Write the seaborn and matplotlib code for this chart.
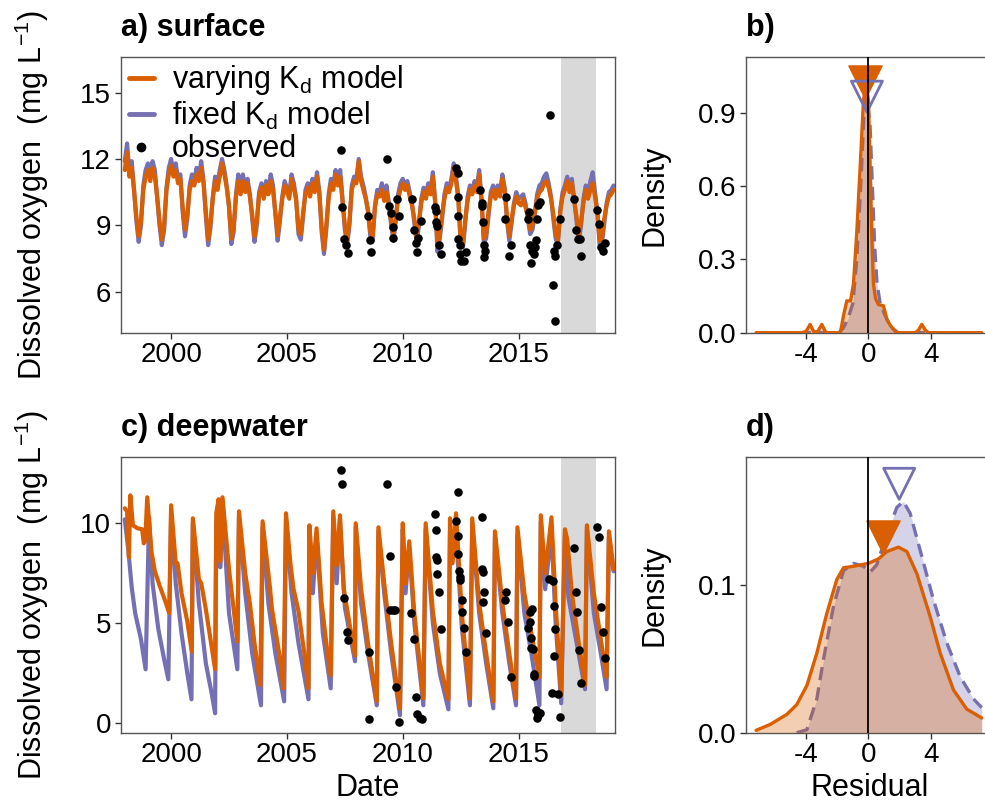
import numpy as np
import matplotlib
matplotlib.use("Agg")
import matplotlib.pyplot as plt
from matplotlib.lines import Line2D
import seaborn as sns

# ---------------- data ----------------
ORANGE = "#D95F02"
PURPLE = "#7570B3"

# surface model output, sampled every 0.1 year from 1998.0 to 2019.1
surf_time = np.round(np.arange(1998.0, 2019.15, 0.1), 2)
surf_vary = [
    11.5, 12.3, 11.2, 11.6, 10.6, 9.4, 8.5, 9.2, 10.6, 11.2,   # 1998
    11.5, 11.0, 11.6, 11.2, 10.3, 9.2, 8.35, 9.0, 10.6, 11.3,  # 1999
    11.7, 11.2, 11.5, 10.9, 11.1, 9.8, 8.8, 9.5, 10.6, 11.0,   # 2000
    10.8, 11.3, 11.0, 11.6, 10.9, 9.6, 8.35, 9.1, 10.2, 11.0,  # 2001
    10.6, 11.2, 11.8, 11.3, 10.7, 9.9, 8.4, 8.9, 10.3, 11.0,   # 2002
    10.4, 11.0, 10.5, 10.9, 10.3, 9.5, 8.5, 9.2, 10.4, 10.7,   # 2003
    10.2, 10.8, 10.4, 11.0, 10.6, 9.6, 8.55, 9.4, 10.2, 10.8,  # 2004
    10.5, 10.2, 11.1, 10.7, 10.1, 8.8, 8.6, 9.6, 10.4, 10.7,   # 2005
    10.3, 10.9, 10.5, 11.2, 10.4, 8.9, 7.9, 9.0, 10.2, 10.9,   # 2006
    10.6, 11.3, 10.8, 11.2, 10.1, 9.0, 8.3, 9.2, 10.6, 11.0,   # 2007
    10.9, 11.9, 11.0, 10.6, 10.2, 9.7, 8.7, 8.5, 9.8, 10.4,    # 2008
    10.3, 10.6, 10.1, 10.5, 9.9, 9.2, 8.5, 9.4, 10.2, 10.6,    # 2009
    10.9, 10.6, 10.8, 10.3, 9.9, 9.3, 8.4, 9.2, 10.0, 10.5,    # 2010
    10.2, 10.7, 10.4, 11.2, 10.0, 8.1, 8.6, 9.5, 10.2, 10.7,   # 2011
    10.5, 10.9, 11.6, 11.0, 10.2, 8.3, 8.2, 9.3, 10.1, 10.6,   # 2012
    10.4, 10.8, 10.5, 11.3, 10.1, 8.4, 8.6, 9.6, 10.3, 10.6,   # 2013
    10.2, 10.6, 10.3, 11.1, 10.6, 9.4, 8.5, 9.3, 9.9, 10.3,    # 2014
    10.0, 9.9, 10.2, 9.8, 9.4, 8.8, 9.0, 9.6, 10.2, 10.5,      # 2015
    10.6, 10.9, 11.0, 10.7, 10.2, 9.5, 8.6, 8.3, 9.6, 10.3,    # 2016
    10.6, 11.0, 10.5, 10.9, 10.1, 9.4, 8.5, 9.2, 10.0, 10.6,   # 2017
    10.2, 10.6, 10.9, 10.3, 9.6, 8.3, 8.4, 9.3, 9.9, 10.3,     # 2018
    10.4, 10.6,                                                # 2019
]
surf_fixed = [
    11.9, 12.7, 11.4, 11.9, 10.6, 9.2, 8.25, 9.0, 10.8, 11.5,  # 1998
    11.8, 11.3, 11.9, 11.5, 10.2, 9.0, 8.1, 8.8, 10.7, 11.6,   # 1999
    12.0, 11.4, 11.8, 11.1, 11.3, 9.6, 8.5, 9.3, 10.8, 11.3,   # 2000
    11.0, 11.6, 11.2, 11.9, 11.0, 9.4, 8.1, 8.9, 10.3, 11.2,   # 2001
    10.8, 11.5, 12.0, 11.5, 10.8, 9.8, 8.15, 8.7, 10.4, 11.3,  # 2002
    10.6, 11.3, 10.7, 11.1, 10.4, 9.3, 8.25, 9.0, 10.5, 10.9,  # 2003
    10.4, 11.0, 10.6, 11.3, 10.8, 9.5, 8.3, 9.2, 10.3, 11.0,   # 2004
    10.7, 10.4, 11.3, 10.9, 10.2, 8.6, 8.35, 9.4, 10.6, 10.9,  # 2005
    10.5, 11.1, 10.7, 11.4, 10.5, 8.7, 7.7, 8.8, 10.4, 11.1,   # 2006
    10.8, 11.5, 11.0, 11.5, 10.2, 8.8, 8.1, 9.0, 10.8, 11.2,   # 2007
    11.1, 12.0, 11.2, 10.8, 10.3, 9.6, 8.5, 8.3, 9.9, 10.6,    # 2008
    10.5, 10.9, 10.3, 10.8, 10.0, 9.0, 8.3, 9.2, 10.4, 10.9,   # 2009
    11.1, 10.8, 11.0, 10.5, 10.0, 9.1, 8.2, 9.0, 10.2, 10.7,   # 2010
    10.4, 10.9, 10.6, 11.4, 10.1, 7.8, 8.4, 9.3, 10.4, 10.9,   # 2011
    10.7, 11.1, 11.8, 11.2, 10.3, 8.1, 8.0, 9.1, 10.3, 10.8,   # 2012
    10.6, 11.0, 10.7, 11.5, 10.2, 8.2, 8.4, 9.4, 10.5, 10.8,   # 2013
    10.4, 10.8, 10.5, 11.3, 10.7, 9.2, 8.3, 9.1, 10.0, 10.5,   # 2014
    10.2, 10.3, 10.4, 10.0, 9.3, 8.6, 8.8, 9.5, 10.4, 10.8,    # 2015
    10.9, 11.2, 11.35, 10.9, 10.3, 9.3, 8.4, 8.1, 9.7, 10.5,   # 2016
    10.8, 11.2, 10.7, 11.1, 10.2, 9.2, 8.3, 9.0, 10.2, 10.8,   # 2017
    10.4, 11.0, 11.4, 10.5, 9.6, 8.1, 8.2, 9.1, 10.0, 10.5,    # 2018
    10.6, 10.8,                                                # 2019
]

# deepwater model output (irregular knots, decimal year)
deep_time_vary = [
    1998.00, 1998.10, 1998.18, 1998.24, 1998.35, 1998.55, 1998.75, 1998.82, 1998.88, 1998.97,
    1999.15, 1999.30, 1999.50, 1999.75, 1999.92,
    2000.00, 2000.20, 2000.28, 2000.45, 2000.70, 2000.89, 2000.94,
    2001.20, 2001.30, 2001.50, 2001.90, 2001.95,
    2002.05, 2002.12, 2002.22, 2002.50, 2002.86, 2002.93,
    2003.20, 2003.40, 2003.60, 2003.85, 2003.95,
    2004.15, 2004.27, 2004.35, 2004.70, 2004.85, 2004.96,
    2005.15, 2005.28, 2005.50, 2005.75, 2005.93, 2005.97,
    2006.12, 2006.28, 2006.50, 2006.70, 2006.89,
    2007.00, 2007.15, 2007.29, 2007.45, 2007.70, 2007.94, 2007.97,
    2008.20, 2008.50, 2008.88, 2008.95,
    2009.20, 2009.50, 2009.88,
    2010.00, 2010.12, 2010.28, 2010.50, 2010.89, 2010.99,
    2011.30, 2011.60, 2011.97,
    2012.04, 2012.15, 2012.30, 2012.55, 2012.90,
    2013.00, 2013.30, 2013.60, 2013.91, 2013.98,
    2014.30, 2014.60, 2014.89, 2014.95,
    2015.25, 2015.55, 2015.90, 2015.96,
    2016.15, 2016.42, 2016.60, 2016.84,
    2017.00, 2017.10, 2017.30, 2017.60, 2017.87, 2017.95,
    2018.25, 2018.55, 2018.80, 2018.90,
    2019.10,
]
deep_vary = [
    10.75, 10.6, 8.3, 11.4, 9.9, 9.75, 9.7, 9.0, 9.1, 11.3,
    8.6, 7.6, 6.9, 6.1, 5.5,
    10.9, 8.0, 8.0, 6.5, 5.1, 3.6, 10.25,
    7.2, 7.0, 5.7, 2.7, 10.5,
    11.2, 8.1, 11.3, 7.7, 4.1, 10.6,
    7.5, 6.0, 4.0, 1.9, 10.1,
    8.0, 6.75, 5.75, 3.25, 1.75, 10.5,
    8.0, 6.75, 5.6, 3.5, 1.75, 9.9,
    7.5, 9.75, 6.0, 4.0, 2.4,
    10.6, 7.9, 10.4, 6.75, 5.0, 3.4, 10.0,
    6.75, 4.0, 1.1, 9.8,
    7.0, 4.0, 0.75,
    10.0, 7.0, 9.1, 5.5, 1.25, 10.0,
    5.6, 3.0, 1.2,
    10.25, 8.0, 10.5, 5.5, 1.25,
    10.25, 6.0, 3.5, 1.1, 9.6,
    6.0, 3.5, 1.25, 9.8,
    6.5, 4.5, 2.3, 10.4,
    7.5, 10.3, 6.0, 1.4,
    9.7, 9.2, 6.5, 4.0, 1.9, 9.9,
    6.5, 4.2, 2.3, 9.6,
    7.7,
]
deep_time_fixed = [
    1998.00, 1998.15, 1998.30, 1998.45, 1998.70, 1998.90,
    1999.05, 1999.20, 1999.45, 1999.70, 1999.88,
    2000.00, 2000.20, 2000.45, 2000.70, 2000.88, 2000.94,
    2001.20, 2001.50, 2001.75, 2001.90, 2001.95,
    2002.05, 2002.12, 2002.22, 2002.50, 2002.86, 2002.93,
    2003.20, 2003.50, 2003.88, 2003.95,
    2004.20, 2004.50, 2004.88, 2004.96,
    2005.20, 2005.50, 2005.93, 2005.97,
    2006.12, 2006.28, 2006.55, 2006.89,
    2007.00, 2007.15, 2007.29, 2007.50, 2007.94, 2007.97,
    2008.20, 2008.50, 2008.88, 2008.95,
    2009.20, 2009.50, 2009.88,
    2010.00, 2010.12, 2010.28, 2010.50, 2010.89, 2010.99,
    2011.30, 2011.60, 2011.97,
    2012.04, 2012.15, 2012.30, 2012.55, 2012.90,
    2013.00, 2013.30, 2013.60, 2013.91, 2013.98,
    2014.30, 2014.60, 2014.89, 2014.95,
    2015.25, 2015.55, 2015.90, 2015.96,
    2016.15, 2016.42, 2016.60, 2016.84,
    2017.00, 2017.15, 2017.40, 2017.87, 2017.95,
    2018.25, 2018.55, 2018.80, 2018.90,
    2019.10,
]
deep_fixed = [
    10.2, 8.7, 6.8, 5.5, 4.2, 2.7,
    10.3, 7.0, 4.7, 3.2, 2.2,
    10.4, 7.0, 4.5, 2.5, 1.2, 10.0,
    6.0, 3.0, 1.5, 0.5, 10.0,
    10.6, 7.8, 10.8, 5.5, 2.7, 10.3,
    6.5, 3.5, 0.9, 9.8,
    6.0, 3.5, 1.1, 10.2,
    6.5, 4.0, 1.2, 9.6,
    6.5, 9.4, 4.5, 1.75,
    10.3, 7.0, 10.1, 5.8, 3.1, 9.8,
    6.0, 3.5, 0.9, 9.6,
    6.5, 3.5, 0.4,
    9.7, 6.5, 8.8, 5.0, 0.9, 9.7,
    5.0, 2.5, 0.7,
    9.6, 8.2, 9.6, 4.8, 0.9,
    9.9, 5.5, 3.0, 0.75, 9.3,
    5.5, 3.0, 0.9, 9.4,
    5.5, 3.5, 0.9, 10.1,
    6.7, 9.6, 5.0, 1.0,
    9.4, 6.3, 4.7, 1.7, 9.7,
    5.5, 3.5, 1.7, 9.3,
    7.6,
]

# observations (surface and deepwater)
obs_surf_time = [
    2007.32, 2007.37, 2007.46, 2007.54, 2007.63, 2008.48, 2008.57, 2008.62,
    2009.34, 2009.42, 2009.51, 2009.59, 2009.56, 2009.76, 2009.85,
    2010.39, 2010.48, 2010.56, 2010.67, 2010.62, 2010.79,
    2011.38, 2011.44, 2011.44, 2011.49, 2011.55, 2011.64,
    2012.32, 2012.37, 2012.37, 2012.37, 2012.40, 2012.46, 2012.46, 2012.52, 2012.66, 2012.71,
    2013.35, 2013.40, 2013.43, 2013.47, 2013.52, 2013.57, 2013.52,
    2014.46, 2014.42, 2014.59, 2014.66,
    2015.39, 2015.44, 2015.51, 2015.56, 2015.53, 2015.65, 2015.70, 2015.74, 2015.79, 2015.82, 2015.91,
    2016.34, 2016.47, 2016.59, 2016.54, 2016.59, 2016.67, 2016.81,
    2017.41, 2017.47, 2017.56, 2017.66, 2017.69,
    2018.38, 2018.47, 2018.55, 2018.63, 2018.72,
]
obs_surf = [
    12.4, 9.83, 8.36, 8.09, 7.75, 9.4, 8.33, 7.8,
    12.0, 9.85, 9.55, 8.43, 8.9, 10.2, 9.4,
    10.2, 8.8, 8.2, 8.43, 7.8, 9.2,
    9.83, 9.63, 9.13, 8.95, 8.1, 7.68,
    11.58, 11.38, 10.3, 9.4, 8.36, 8.13, 7.68, 7.38, 7.38, 7.78,
    10.6, 10.0, 9.85, 9.13, 8.1, 7.85, 7.55,
    10.3, 9.3, 7.6, 8.1,
    9.3, 9.6, 8.13, 7.83, 7.3, 7.68, 8.0, 8.33, 9.3, 9.93, 10.05,
    14.0, 6.28, 4.68, 7.83, 7.6, 8.1, 9.3,
    10.2, 8.8, 8.36, 8.36, 7.63,
    9.67, 9.08, 8.0, 7.85, 8.2,
]
obs_deep_time = [
    2007.32, 2007.37, 2007.46, 2007.58, 2007.63, 2008.54, 2008.54,
    2009.34, 2009.46, 2009.44, 2009.56, 2009.68, 2009.73, 2009.85,
    2010.36, 2010.48, 2010.56, 2010.61, 2010.73, 2010.83,
    2011.38, 2011.44, 2011.44, 2011.47, 2011.50, 2011.55, 2011.64,
    2012.37, 2012.32, 2012.37, 2012.37, 2012.44, 2012.45, 2012.49, 2012.54, 2012.57, 2012.66, 2012.75,
    2013.40, 2013.43, 2013.48, 2013.52, 2013.48, 2013.60,
    2014.42, 2014.46, 2014.54, 2014.66,
    2015.39, 2015.48, 2015.56, 2015.48, 2015.53, 2015.53, 2015.61, 2015.65, 2015.68,
    2015.74, 2015.79, 2015.82, 2015.85, 2015.91,
    2016.33, 2016.50, 2016.55, 2016.59, 2016.55, 2016.45, 2016.71, 2016.81,
    2017.41, 2017.48, 2017.53, 2017.61, 2017.69,
    2018.38, 2018.47, 2018.55, 2018.63, 2018.72,
]
obs_deep = [
    12.67, 11.95, 6.28, 4.55, 4.17, 0.22, 3.58,
    11.95, 8.37, 5.67, 5.67, 5.67, 1.83, 0.08,
    5.5, 4.2, 1.3, 0.47, 0.25, 0.2,
    10.45, 9.67, 8.3, 8.17, 7.47, 6.57, 4.7,
    11.55, 10.12, 9.37, 8.47, 7.6, 7.33, 7.17, 6.17, 5.55, 4.78, 3.58,
    10.33, 7.7, 7.58, 6.55, 6.05, 4.5,
    6.17, 6.57, 5.08, 2.3,
    4.78, 5.58, 5.7, 5.08, 4.28, 3.75, 3.7, 2.45, 2.37,
    0.67, 0.25, 0.5, 0.42, 0.5,
    7.2, 7.1, 5.88, 4.7, 3.38, 1.5, 1.45, 0.33,
    8.78, 6.58, 5.55, 3.67, 2.03,
    9.83, 9.33, 5.83, 4.55, 3.25,
]

# validation period (grey band)
valid_start, valid_end = 2016.83, 2018.36

# residual densities (surface)
res_b_vary_x = [-7.2, -4.3, -4.0, -3.74, -3.5, -3.25, -2.99, -2.75, -2.56, -1.8, -1.6, -1.39,
                -1.15, -0.96, -0.75, -0.53, -0.32, -0.15, 0.0, 0.1, 0.2, 0.32, 0.45, 0.64,
                0.96, 1.18, 1.4, 1.6, 1.8, 3.0, 3.2, 3.42, 3.65, 3.85, 7.26]
res_b_vary_y = [0, 0, 0.005, 0.034, 0.003, 0.005, 0.034, 0.003, 0, 0, 0.07, 0.13,
                0.13, 0.2, 0.41, 0.68, 0.95, 1.02, 0.95, 0.68, 0.42, 0.2, 0.14, 0.115,
                0.11, 0.054, 0.03, 0.014, 0, 0, 0.01, 0.034, 0.01, 0, 0]
res_b_fixed_x = [-7.2, -1.9, -1.6, -1.3, -1.0, -0.75, -0.5, -0.3, -0.1, 0.1, 0.25, 0.4,
                 0.55, 0.75, 1.0, 1.3, 1.6, 1.9, 7.26]
res_b_fixed_y = [0, 0, 0.02, 0.06, 0.12, 0.3, 0.6, 0.88, 0.965, 0.85, 0.6, 0.35,
                 0.2, 0.12, 0.08, 0.04, 0.015, 0, 0]
# residual densities (deepwater)
res_d_vary_x = [-7.2, -6.3, -5.24, -4.6, -3.95, -3.31, -2.67, -2.03, -1.6, -0.96, 0.0,
                0.64, 1.18, 1.92, 2.46, 3.1, 3.95, 4.6, 5.45, 6.3, 7.26]
res_d_vary_y = [0.0016, 0.0056, 0.0124, 0.019, 0.032, 0.054, 0.081, 0.104, 0.112, 0.113, 0.115,
                0.118, 0.123, 0.126, 0.123, 0.108, 0.079, 0.054, 0.029, 0.016, 0.010]
res_d_fixed_x = [-4.6, -3.95, -3.31, -2.88, -2.24, -1.6, -0.96, -0.32, 0.1, 0.53, 1.18,
                 1.82, 2.24, 2.67, 3.31, 4.17, 5.02, 5.88, 6.73, 7.26]
res_d_fixed_y = [0, 0.002, 0.023, 0.05, 0.086, 0.11, 0.115, 0.113, 0.109, 0.114, 0.135,
                 0.153, 0.157, 0.149, 0.124, 0.09, 0.061, 0.038, 0.023, 0.017]
# triangle markers (varying, fixed)
mark_b_x, mark_b_y = [-0.21, -0.1], [1.026, 0.965]
mark_d_x, mark_d_y = [0.9, 1.97], [0.133, 0.169]

# ---------------- style ----------------
sns.set_theme(style="ticks")
plt.rcParams.update({
    "font.family": ["Liberation Sans", "DejaVu Sans"],
    "mathtext.fontset": "custom",
    "mathtext.rm": "Liberation Sans",
    "mathtext.it": "Liberation Sans:italic",
    "mathtext.bf": "Liberation Sans:bold",
    "text.color": "black",
    "axes.labelcolor": "black",
    "axes.titlecolor": "black",
    "axes.edgecolor": "#555555",
    "axes.linewidth": 1.0,
    "xtick.color": "#333333",
    "ytick.color": "#333333",
    "xtick.labelcolor": "black",
    "ytick.labelcolor": "black",
})
FS_TICK = 20
FS_LAB = 22

W, H = 985, 810
fig = plt.figure(figsize=(W / 100, H / 100), dpi=100)


def add_ax(x0, x1, y0, y1):
    return fig.add_axes([x0 / W, 1 - y1 / H, (x1 - x0) / W, (y1 - y0) / H])


axA = add_ax(120.6, 615.4, 57.3, 332.7)
axC = add_ax(120.6, 615.4, 457.3, 732.7)
axB = add_ax(746, 992.5, 57.3, 332.7)
axD = add_ax(746, 992.5, 457.3, 732.7)

LW = 3.0
for ax, tv, vv, tf, vf, ot, ov in [
    (axA, surf_time, surf_vary, surf_time, surf_fixed, obs_surf_time, obs_surf),
    (axC, deep_time_vary, deep_vary, deep_time_fixed, deep_fixed, obs_deep_time, obs_deep),
]:
    ax.axvspan(valid_start, valid_end, color="#D9D9D9", lw=0, zorder=0)
    sns.lineplot(x=tf, y=vf, ax=ax, color=PURPLE, lw=LW, estimator=None, zorder=2)
    sns.lineplot(x=tv, y=vv, ax=ax, color=ORANGE, lw=LW, estimator=None, zorder=3)
    sns.scatterplot(x=ot, y=ov, ax=ax, color="black", s=38, linewidth=0, zorder=5)
    ax.set_xlim(1997.82, 2019.18)
    ax.set_xticks([2000, 2005, 2010, 2015])
    ax.set_ylabel("Dissolved oxygen  (mg L$^{-1}$)", fontsize=FS_LAB)
    ax.yaxis.set_label_coords(-0.14, 0.5)

axA.set_ylim(4.14, 16.6)
axA.set_yticks([6, 9, 12, 15])
axC.set_ylim(-0.47, 13.3)
axC.set_yticks([0, 5, 10])
axA.set_xlabel("")
axC.set_xlabel("Date", fontsize=FS_LAB, labelpad=3)

for ax, fx, fy, vx, vy, mx, my in [
    (axB, res_b_fixed_x, res_b_fixed_y, res_b_vary_x, res_b_vary_y, mark_b_x, mark_b_y),
    (axD, res_d_fixed_x, res_d_fixed_y, res_d_vary_x, res_d_vary_y, mark_d_x, mark_d_y),
]:
    ax.fill_between(fx, fy, 0, color=PURPLE, alpha=0.3, lw=0, zorder=1)
    sns.lineplot(x=fx, y=fy, ax=ax, color=PURPLE, lw=2.4, linestyle=(0, (4, 2.2)),
                 estimator=None, zorder=2)
    ax.fill_between(vx, vy, 0, color=ORANGE, alpha=0.3, lw=0, zorder=3)
    sns.lineplot(x=vx, y=vy, ax=ax, color=ORANGE, lw=2.4, estimator=None, zorder=4)
    ax.scatter([mx[0]], [my[0]], marker="v", s=560, color=ORANGE, edgecolor=ORANGE,
               linewidth=1.2, zorder=6)
    ax.scatter([mx[1]], [my[1]], marker="v", s=500, facecolor="none", edgecolor=PURPLE,
               linewidth=2.0, zorder=6)
    ax.axvline(0, color="black", lw=1.3, zorder=7)
    ax.set_xlim(-7.85, 7.95)
    ax.set_xticks([-4, 0, 4])
    ax.set_xticklabels(["-4", "0", "4"])
    ax.set_ylabel("Density", fontsize=FS_LAB)
    ax.yaxis.set_label_coords(-0.31, 0.5)

axB.set_ylim(0, 1.126)
axB.set_yticks([0.0, 0.3, 0.6, 0.9])
axB.set_yticklabels(["0.0", "0.3", "0.6", "0.9"])
axD.set_ylim(0, 0.187)
axD.set_yticks([0.0, 0.1])
axD.set_yticklabels(["0.0", "0.1"])
axB.set_xlabel("")
axD.set_xlabel("Residual", fontsize=FS_LAB, labelpad=3)

for ax in (axA, axB, axC, axD):
    ax.tick_params(labelsize=FS_TICK, length=4, width=1.0, pad=3)
    for s in ax.spines.values():
        s.set_visible(True)
        s.set_color("#555555")
        s.set_linewidth(1.0)

titles = [(axA, "a) surface"), (axB, "b)"), (axC, "c) deepwater"), (axD, "d)")]
for ax, t in titles:
    ax.set_title(t, loc="left", fontsize=FS_LAB, fontweight="bold", pad=15)

handles = [
    Line2D([], [], color=ORANGE, lw=LW + 0.5),
    Line2D([], [], color=PURPLE, lw=LW + 0.5),
    Line2D([], [], color="black", marker="o", ls="", markersize=6),
]
labels = ["varying K$_{\\mathrm{d}}$ model", "fixed K$_{\\mathrm{d}}$ model", "observed"]
axA.legend(handles, labels, loc="upper left", bbox_to_anchor=(0.005, 1.0), frameon=False,
           fontsize=FS_LAB, handlelength=0.8, handletextpad=0.6, labelspacing=0.08,
           borderpad=0.2, borderaxespad=0.0)

fig.savefig("out.png", dpi=100)
